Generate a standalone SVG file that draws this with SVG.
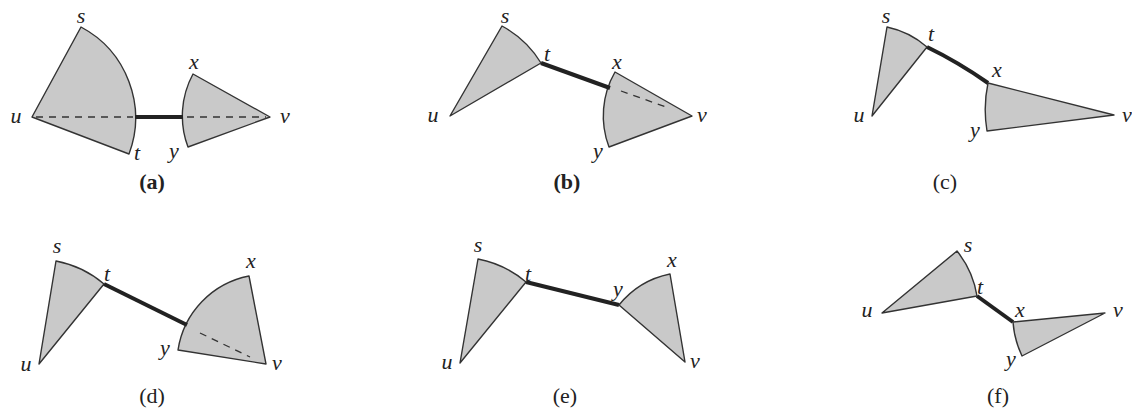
<svg xmlns="http://www.w3.org/2000/svg" width="1132" height="413" viewBox="0 0 1132 413">
<style>
.sh{fill:#c9c9c9;stroke:#333;stroke-width:1.4;stroke-linejoin:round}
.ed{stroke:#222;stroke-width:4;stroke-linecap:butt;fill:none}
.da{stroke:#333;stroke-width:1.3;stroke-dasharray:7 6;fill:none}
.lb{font-family:'Liberation Serif','Times New Roman',Tinos,'DejaVu Serif',serif;font-style:italic;font-size:22px;fill:#222;text-anchor:middle}
.cap{font-family:'Liberation Serif','Times New Roman',Tinos,'DejaVu Serif',serif;font-size:22px;fill:#222;text-anchor:middle}
.b{font-weight:bold}
</style>
<rect width="1132" height="413" fill="#fff"/>
<g id="panel-a">
<path class="sh" d="M32,117 L81,27 A103,103 0 0 1 129,154 Z"/>
<path class="sh" d="M270,117 L193,74 A88,88 0 0 0 188,147 Z"/>
<text class="lb" x="81" y="23">s</text><text class="lb" x="16" y="123">u</text><text class="lb" x="137" y="160">t</text>
<text class="lb" x="194" y="69">x</text><text class="lb" x="285" y="123">v</text><text class="lb" x="174" y="158">y</text>
<text class="cap b" x="152" y="189">(a)</text>
</g>
<g id="panel-b">
<path class="sh" d="M450,116 L502,26 A104,104 0 0 1 541,63 Z"/>
<path class="sh" d="M692,116 L615,72 A88,88 0 0 0 609,147 Z"/>
<text class="lb" x="505" y="23">s</text><text class="lb" x="433" y="122">u</text><text class="lb" x="547" y="61">t</text>
<text class="lb" x="617" y="69">x</text><text class="lb" x="702" y="122">v</text><text class="lb" x="598" y="158">y</text>
<text class="cap b" x="567" y="189">(b)</text>
</g>
<g id="panel-c">
<path class="sh" d="M872,116 L887,27 A89,89 0 0 1 927,47 Z"/>
<path class="sh" d="M1114,115 L988,83 A129,129 0 0 0 987,131 Z"/>
<text class="lb" x="886" y="23">s</text><text class="lb" x="859" y="122">u</text><text class="lb" x="931" y="41">t</text>
<text class="lb" x="997" y="77">x</text><text class="lb" x="1127" y="122">v</text><text class="lb" x="975" y="137">y</text>
<text class="cap" x="945" y="189">(c)</text>
</g>
<g id="panel-d">
<path class="sh" d="M39,364 L56,261 A104,104 0 0 1 104,284 Z"/>
<path class="sh" d="M266,364 L249,276 A89,89 0 0 0 178,350 Z"/>
<text class="lb" x="57" y="253">s</text><text class="lb" x="26" y="371">u</text><text class="lb" x="107" y="281">t</text>
<text class="lb" x="251" y="268">x</text><text class="lb" x="277" y="370">v</text><text class="lb" x="165" y="355">y</text>
<text class="cap" x="152" y="403">(d)</text>
</g>
<g id="panel-e">
<path class="sh" d="M460,363 L478,259 A105,105 0 0 1 526,282 Z"/>
<path class="sh" d="M685,362 L670,274 A88,88 0 0 0 619,305 Z"/>
<text class="lb" x="478" y="252">s</text><text class="lb" x="447" y="369">u</text><text class="lb" x="528" y="281">t</text>
<text class="lb" x="672" y="267">x</text><text class="lb" x="695" y="368">v</text><text class="lb" x="618" y="296">y</text>
<text class="cap" x="565" y="403">(e)</text>
</g>
<g id="panel-f">
<path class="sh" d="M882,313 L957,251 A97,97 0 0 1 977,296 Z"/>
<path class="sh" d="M1105,313 L1013,322 A93,93 0 0 0 1022,356 Z"/>
<text class="lb" x="968" y="252">s</text><text class="lb" x="867" y="317">u</text><text class="lb" x="980" y="294">t</text>
<text class="lb" x="1020" y="317">x</text><text class="lb" x="1118" y="317">v</text><text class="lb" x="1011" y="366">y</text>
<text class="cap" x="998" y="403">(f)</text>
</g>
<g id="connectors">
<line class="da" x1="36" y1="117" x2="133" y2="117"/>
<line class="ed" x1="135" y1="117" x2="183" y2="117"/>
<line class="da" x1="187" y1="117" x2="266" y2="117"/>
<line class="ed" x1="541" y1="63" x2="610" y2="88"/>
<line class="da" x1="621" y1="91" x2="669" y2="108"/>
<path class="ed" d="M927,47 Q958,62 988,83" stroke-width="3.5"/>
<line class="ed" x1="104" y1="284" x2="187" y2="325"/>
<line class="da" x1="200" y1="333" x2="250" y2="357"/>
<line class="ed" x1="526" y1="282" x2="619" y2="305"/>
<line class="ed" x1="977" y1="296" x2="1013" y2="322"/>
</g>
</svg>
